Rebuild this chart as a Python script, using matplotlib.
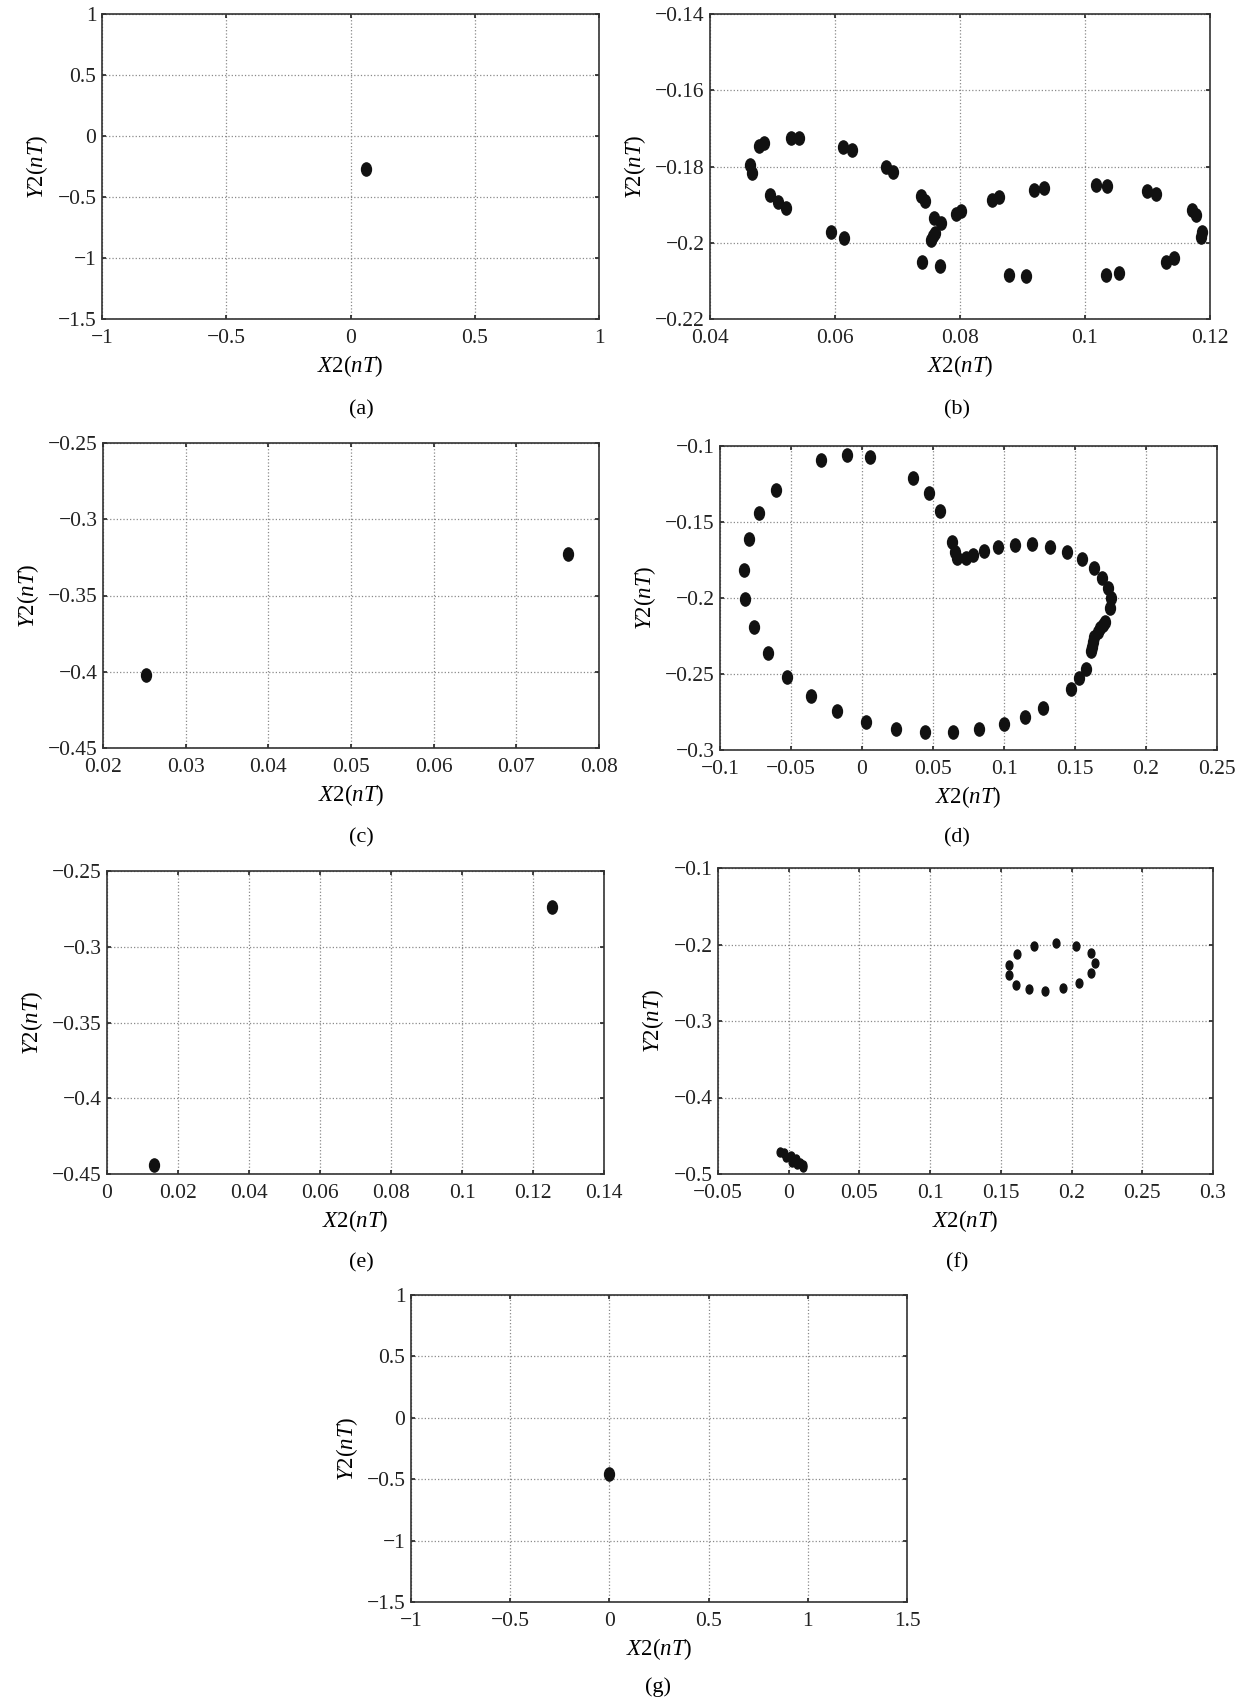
import numpy as np
import matplotlib
matplotlib.use("Agg")
import matplotlib.pyplot as plt
from matplotlib.path import Path
from matplotlib.transforms import Affine2D
from matplotlib.ticker import FuncFormatter

plt.rcParams["font.family"] = "Liberation Serif"
plt.rcParams["mathtext.fontset"] = "custom"
plt.rcParams["mathtext.rm"] = "Liberation Serif"
plt.rcParams["mathtext.it"] = "Liberation Serif:italic"

# --- data ---
a_x = [0.064]
a_y = [-0.27]

b_x = [0.0464, 0.0467, 0.0479, 0.0486, 0.0529, 0.0542, 0.0496, 0.0508, 0.0521,
       0.0593, 0.0614, 0.0613, 0.0628, 0.0681, 0.0692, 0.0737, 0.0744, 0.0758,
       0.0770, 0.0756, 0.0754, 0.0760, 0.0740, 0.0768, 0.0794, 0.0801, 0.0851,
       0.0863, 0.0919, 0.0934, 0.0878, 0.0906, 0.1017, 0.1035, 0.1033, 0.1055,
       0.1100, 0.1114, 0.1171, 0.1178, 0.1188, 0.1186, 0.1129, 0.1143]
b_y = [-0.1797, -0.1816, -0.1745, -0.1739, -0.1724, -0.1726, -0.1875, -0.1892, -0.1909,
       -0.1972, -0.1988, -0.1748, -0.1758, -0.1800, -0.1815, -0.1877, -0.1891, -0.1935,
       -0.1948, -0.1983, -0.1992, -0.1975, -0.2051, -0.2060, -0.1925, -0.1918, -0.1887,
       -0.1881, -0.1861, -0.1857, -0.2085, -0.2088, -0.1849, -0.1851, -0.2085, -0.2079,
       -0.1863, -0.1872, -0.1915, -0.1927, -0.1972, -0.1986, -0.2051, -0.2040]

c_x = [0.0252, 0.0762]
c_y = [-0.402, -0.3226]

d_x = [-0.029, -0.0109, 0.0059, 0.036, 0.047, 0.0548, -0.0604, -0.0722, -0.0799,
       -0.0834, -0.0824, -0.0764, -0.0664, -0.0526, -0.0358, -0.0175, 0.0029, 0.0239,
       0.0443, 0.0641, 0.0821, 0.0997, 0.1148, 0.1275, 0.1469, 0.1531, 0.1577,
       0.1614, 0.1622, 0.1629, 0.1637, 0.1659, 0.1679, 0.1694, 0.1709, 0.1747,
       0.1752, 0.1735, 0.1692, 0.1632, 0.1546, 0.1444, 0.1323, 0.1198, 0.1077,
       0.0959, 0.0859, 0.0784, 0.0729, 0.0668, 0.0656, 0.0636]
d_y = [-0.1092, -0.1057, -0.1070, -0.1208, -0.1311, -0.1425, -0.1289, -0.1443, -0.1614,
       -0.1814, -0.2007, -0.2193, -0.2364, -0.2520, -0.2645, -0.2741, -0.2814, -0.2862,
       -0.2879, -0.2879, -0.2862, -0.2829, -0.2781, -0.2726, -0.2599, -0.2529, -0.2465,
       -0.2351, -0.2320, -0.2287, -0.2259, -0.2224, -0.2200, -0.2178, -0.2156, -0.2066,
       -0.2002, -0.1936, -0.1866, -0.1803, -0.1746, -0.1695, -0.1662, -0.1647, -0.1649,
       -0.1662, -0.1689, -0.1715, -0.1739, -0.1735, -0.1700, -0.1629]

e_x = [0.0131, 0.1254]
e_y = [-0.444, -0.2735]

f_x = [0.189, 0.2033, 0.2134, 0.2169, 0.2136, 0.2056, 0.194, 0.1815, 0.1702, 0.1609,
       0.1556, 0.1556, 0.1616, 0.1737,
       -0.0061, -0.0036, -0.0018, 0.0017, 0.0025, 0.005, 0.0062, 0.0082, 0.0098, 0.0103]
f_y = [-0.1977, -0.2017, -0.2113, -0.2239, -0.2379, -0.2501, -0.2571, -0.2614, -0.2584, -0.2527,
       -0.2405, -0.2265, -0.2126, -0.2021,
       -0.4717, -0.473, -0.4783, -0.476, -0.484, -0.4805, -0.487, -0.4853, -0.4905, -0.4883]

g_x = [0.0]
g_y = [-0.459]

# axis ticks per panel
a_xt = [-1, -0.5, 0, 0.5, 1];  a_yt = [-1.5, -1, -0.5, 0, 0.5, 1]
b_xt = [0.04, 0.06, 0.08, 0.1, 0.12];  b_yt = [-0.22, -0.2, -0.18, -0.16, -0.14]
c_xt = [0.02, 0.03, 0.04, 0.05, 0.06, 0.07, 0.08];  c_yt = [-0.45, -0.4, -0.35, -0.3, -0.25]
d_xt = [-0.1, -0.05, 0, 0.05, 0.1, 0.15, 0.2, 0.25];  d_yt = [-0.3, -0.25, -0.2, -0.15, -0.1]
e_xt = [0, 0.02, 0.04, 0.06, 0.08, 0.1, 0.12, 0.14];  e_yt = [-0.45, -0.4, -0.35, -0.3, -0.25]
f_xt = [-0.05, 0, 0.05, 0.1, 0.15, 0.2, 0.25, 0.3];  f_yt = [-0.5, -0.4, -0.3, -0.2, -0.1]
g_xt = [-1, -0.5, 0, 0.5, 1, 1.5];  g_yt = [-1.5, -1, -0.5, 0, 0.5, 1]

W, H = 1241, 1702
fig = plt.figure(figsize=(W / 100, H / 100), dpi=100)

# slightly tall ellipse, like the MATLAB dots in the original
ell = Path.unit_circle().transformed(Affine2D().scale(0.75, 1.0))


def fmt(v, pos):
    return f"{round(v, 6):g}".replace("-", "\u2212")


def panel(box, xs, ys, xt, yt, tag, tag_xy, ms=9.5):
    l, r, t, b = box
    ax = fig.add_axes([l / W, 1 - b / H, (r - l) / W, (b - t) / H])
    ax.plot(xs, ys, linestyle="none", marker=ell, markersize=ms, color="#111111")
    ax.set_xlim(xt[0], xt[-1])
    ax.set_ylim(yt[0], yt[-1])
    ax.set_xticks(xt)
    ax.set_yticks(yt)
    ax.xaxis.set_major_formatter(FuncFormatter(fmt))
    ax.yaxis.set_major_formatter(FuncFormatter(fmt))
    ax.grid(True, linestyle=":", color="#8a8a8a", linewidth=0.9)
    ax.tick_params(direction="in", length=3, width=1.2, top=True, right=True,
                   labelsize=15.5, colors="#222222")
    ax.tick_params(axis="x", pad=7)
    ax.tick_params(axis="y", pad=4)
    for s in ax.spines.values():
        s.set_linewidth(1.2)
        s.set_color("#333333")
    ax.set_xlabel(r"$X\mathrm{2(}nT\mathrm{)}$", fontsize=16.5, labelpad=4)
    ax.set_ylabel(r"$Y\mathrm{2(}nT\mathrm{)}$", fontsize=16.5, labelpad=5)
    fig.text(tag_xy[0] / W, 1 - tag_xy[1] / H, tag, fontsize=16,
             ha="center", va="center")
    return ax


panel((102, 599, 14, 319), a_x, a_y, a_xt, a_yt, "(a)", (361, 410))
panel((710, 1210, 14, 319), b_x, b_y, b_xt, b_yt, "(b)", (957, 410))
panel((103, 599, 443, 748), c_x, c_y, c_xt, c_yt, "(c)", (361, 838))
panel((720, 1217, 446, 750), d_x, d_y, d_xt, d_yt, "(d)", (957, 838))
panel((107, 604, 871, 1174), e_x, e_y, e_xt, e_yt, "(e)", (361, 1263))
panel((718, 1213, 868, 1174), f_x, f_y, f_xt, f_yt, "(f)", (957, 1263), ms=6.5)
panel((411, 907, 1295, 1602), g_x, g_y, g_xt, g_yt, "(g)", (658, 1687))

fig.savefig("out.png", dpi=100)
